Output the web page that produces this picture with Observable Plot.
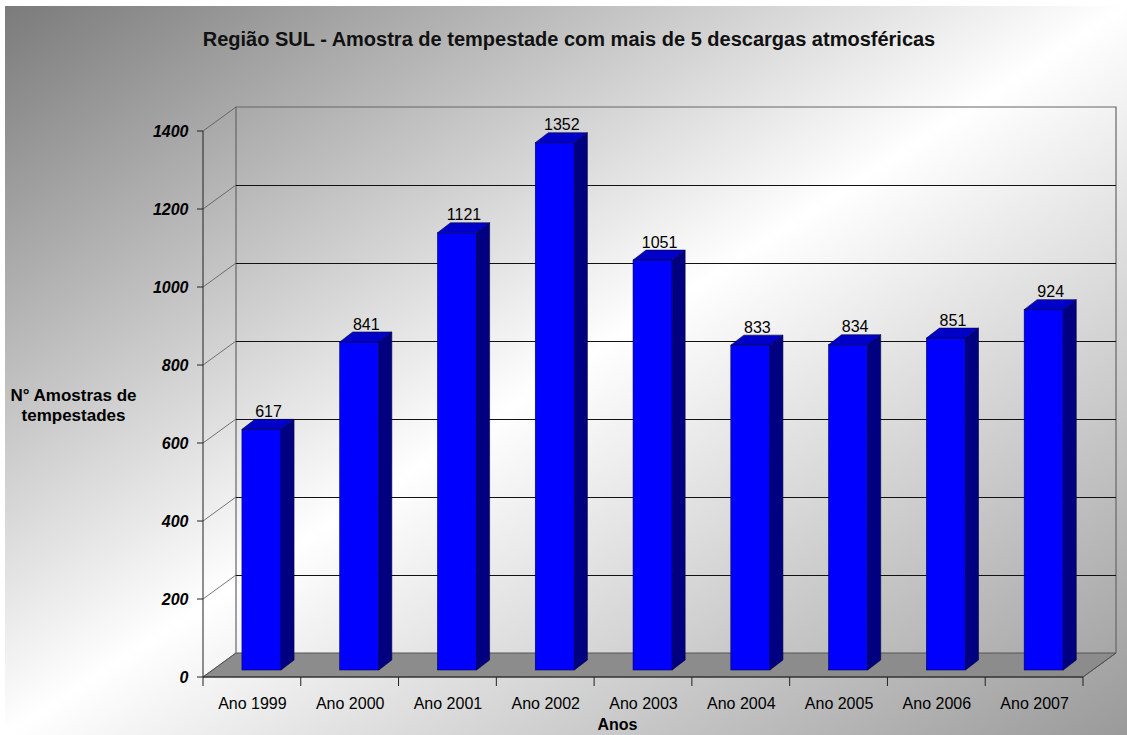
<!DOCTYPE html>
<html>
<head>
<meta charset="utf-8">
<script src="https://cdn.jsdelivr.net/npm/d3@7"></script>
<script src="https://cdn.jsdelivr.net/npm/@observablehq/plot@0.6"></script>
<style>
  html, body { margin: 0; padding: 0; background: #fff; }
  #wrap { position: relative; width: 1127px; height: 735px; overflow: hidden; background: #fff; font-family: "Liberation Sans", Arial, sans-serif; }
  #bg { position: absolute; left: 5px; top: 6px; right: 0; bottom: 0;
        background: linear-gradient(to bottom right, #7b7b7b 0%, #ffffff 50%, #9a9a9a 100%); }
  #title { position: absolute; left: 0; width: 1127px; top: 29px; text-align: center; padding-left: 11px; box-sizing: border-box;
           font-size: 20px; line-height: 20px; font-weight: bold; color: #111; }
  #chart { position: absolute; left: 0; top: 80px; }
  #chart svg { background: transparent !important; overflow: visible; }
</style>
</head>
<body>
<div id="wrap">
  <div id="bg"></div>
  <div id="title">Região SUL - Amostra de tempestade com mais de 5 descargas atmosféricas</div>
  <div id="chart"></div>
</div>
<script>
// ---- data ----
const years = ["Ano 1999", "Ano 2000", "Ano 2001", "Ano 2002", "Ano 2003", "Ano 2004", "Ano 2005", "Ano 2006", "Ano 2007"];
const counts = [617, 841, 1121, 1352, 1051, 833, 834, 851, 924];
const yTicks = [0, 200, 400, 600, 800, 1000, 1200, 1400];
const yLabel = "N° Amostras de\ntempestades";
const xLabel = "Anos";

const data = years.map((year, i) => ({year, value: counts[i]}));

// ---- layout / style ----
const W = 1127, H = 655;
const mL = 203, mR = 44, mT = 51, mB = 58;
const DX = 33, DY = -24;          // depth of the 3D box
const BDX = 9.6, BDY = -7;        // bar plane offset
const BDEPX = 13, BDEPY = -10;    // bar depth
const BARFRAC = 0.4;
const band = (W - mL - mR) / years.length;
const inset = band * (1 - BARFRAC) / 2;
const yMax = yTicks[yTicks.length - 1];

function bw(x) { return x.bandwidth ? x.bandwidth() : band; }

function box3d(index, {x, y}, values, dims) {
  const x0 = dims.marginLeft, x1 = dims.width - dims.marginRight;
  const yb = y(0), yt = y(yMax);
  const g = d3.create("svg:g");
  g.append("path")
    .attr("d", `M${x0},${yb}L${x1},${yb}L${x1 + DX},${yb + DY}L${x0 + DX},${yb + DY}Z`)
    .attr("fill", "#8c8c8c").attr("stroke", "#555").attr("stroke-width", 1);
  g.append("path")
    .attr("d", `M${x0 + DX},${yb + DY}L${x0 + DX},${yt + DY}L${x1 + DX},${yt + DY}L${x1 + DX},${yb + DY}`)
    .attr("fill", "none").attr("stroke", "#666").attr("stroke-width", 1.2);
  for (const t of yTicks) {
    g.append("line")
      .attr("x1", x0).attr("y1", y(t)).attr("x2", x0 + DX).attr("y2", y(t) + DY)
      .attr("stroke", "#555").attr("stroke-width", 0.8);
  }
  return g.node();
}

function barsSides(index, {x, y}) {
  const g = d3.create("svg:g");
  const b = bw(x), ins = b * (1 - BARFRAC) / 2;
  for (const d of data) {
    const xl = x(d.year) + ins + BDX;
    const xr = x(d.year) + b - ins + BDX;
    const yt = y(d.value) + BDY;
    const yb = y(0) + BDY;
    g.append("path")
      .attr("d", `M${xr},${yb}L${xr},${yt}L${xr + BDEPX},${yt + BDEPY}L${xr + BDEPX},${yb + BDEPY}Z`)
      .attr("fill", "#000080").attr("stroke", "#000040").attr("stroke-width", 0.6);
    g.append("path")
      .attr("d", `M${xl},${yt}L${xr},${yt}L${xr + BDEPX},${yt + BDEPY}L${xl + BDEPX},${yt + BDEPY}Z`)
      .attr("fill", "#0000c8").attr("stroke", "#000040").attr("stroke-width", 0.6);
  }
  return g.node();
}

function frontAxes(index, {x, y}, values, dims) {
  const x0 = dims.marginLeft, x1 = dims.width - dims.marginRight;
  const yb = y(0), yt = y(yMax);
  const b = bw(x);
  const g = d3.create("svg:g").attr("stroke", "#222").attr("stroke-width", 1);
  g.append("line").attr("x1", x0).attr("y1", yt).attr("x2", x0).attr("y2", yb);
  g.append("line").attr("x1", x0).attr("y1", yb).attr("x2", x1).attr("y2", yb);
  g.append("line").attr("x1", x1).attr("y1", yb).attr("x2", x1 + DX).attr("y2", yb + DY).attr("stroke", "#555");
  for (const t of yTicks) {
    g.append("line").attr("x1", x0 - 6).attr("y1", y(t)).attr("x2", x0).attr("y2", y(t));
  }
  for (let i = 0; i <= years.length; i++) {
    const xx = i < years.length ? x(years[i]) : x(years[years.length - 1]) + b;
    g.append("line").attr("x1", xx).attr("y1", yb).attr("x2", xx).attr("y2", yb + 9);
  }
  return g.node();
}

const chart = Plot.plot({
  width: W, height: H,
  marginLeft: mL, marginRight: mR, marginTop: mT, marginBottom: mB,
  style: {background: "transparent", fontFamily: "'Liberation Sans', Arial, sans-serif", overflow: "visible"},
  x: {domain: years, padding: 0, round: false, axis: null},
  y: {domain: [0, yMax], axis: null},
  marks: [
    box3d,
    Plot.ruleY(yTicks.filter(t => t > 0 && t < yMax), {y: d => d, dx: DX, dy: DY, stroke: "#111", strokeWidth: 1}),
    Plot.barY(data, {x: "year", y: "value", fill: "#0000ff", stroke: "#000050", strokeWidth: 0.6,
                     insetLeft: inset, insetRight: inset, dx: BDX, dy: BDY}),
    barsSides,
    frontAxes,
    Plot.text(data, {x: "year", y: "value", text: d => String(d.value), dx: BDX + BDEPX / 2, dy: BDY + BDEPY - 3,
                     lineAnchor: "bottom", fontSize: 16, fill: "#000"}),
    Plot.text(yTicks, {y: d => d, text: d => String(d), frameAnchor: "left", textAnchor: "end", dx: -15,
                       fontSize: 16, fontWeight: "bold", fontStyle: "italic", fill: "#000"}),
    Plot.text(years, {x: d => d, text: d => d, frameAnchor: "bottom", dy: 26, lineAnchor: "middle",
                      fontSize: 16, fill: "#000"}),
    Plot.text([xLabel], {text: d => d, frameAnchor: "bottom", dx: -26, dy: 47, lineAnchor: "middle",
                         fontSize: 16, fontWeight: "bold", fill: "#000"}),
    Plot.text([yLabel], {y: () => yMax / 2, text: d => d, frameAnchor: "left", textAnchor: "middle", dx: -130, lineHeight: 1.2,
                         fontSize: 17, fontWeight: "bold", fill: "#000"})
  ]
});
document.getElementById("chart").appendChild(chart);
</script>
</body>
</html>
